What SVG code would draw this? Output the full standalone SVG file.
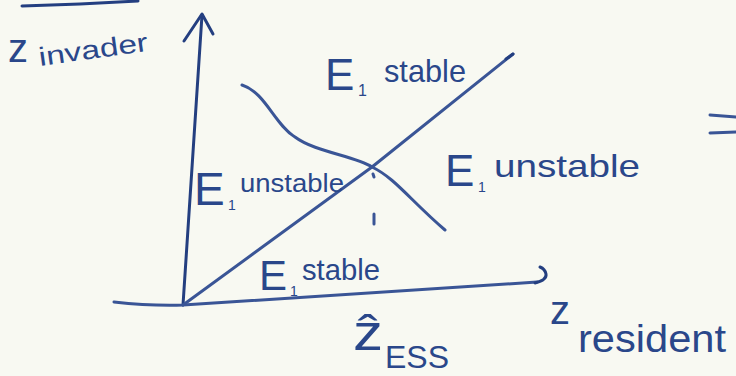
<svg xmlns="http://www.w3.org/2000/svg" width="736" height="376" viewBox="0 0 736 376">
<style>
.ink{fill:none;stroke:#3a5596;stroke-width:3;stroke-linecap:round;stroke-linejoin:round}
.dark{stroke:#243f80}
.t{font-family:"Liberation Sans",Arial,sans-serif;fill:#2a478a}
</style>
<rect width="736" height="376" fill="#f8f9f2"/>
<g id="scribbles">
<path class="ink dark" d="M22 6 L80 4 L138 1" stroke-width="4"/>
<path class="ink" d="M710 115 L736 117 M710 133 L736 132"/>
</g>
<g id="axes">
<path class="ink dark" d="M183 305 L202 15"/>
<path class="ink dark" d="M184 41 L202 14 L213 34"/>
<path class="ink" d="M114 302 Q150 306 183 305 L537 282"/>
<path class="ink dark" d="M535 283 Q547 280 546 274 Q545 269 540 267"/>
</g>
<g id="curves">
<path class="ink" d="M183 305 L372 167 L513 54"/>
<path class="ink dark" d="M506 59 L513 54"/>
<path class="ink" d="M242 85 C265 92 275 125 295 137 C315 152 355 156 372 167 C395 178 410 200 445 230"/>
<path class="ink" d="M373 174 L374 177 M374 214 L374 224"/>
</g>
<g id="labels">
<text class="t" x="8" y="62" font-size="40">z</text>
<text class="t" x="40" y="66" font-size="26" textLength="110" lengthAdjust="spacingAndGlyphs" transform="rotate(-8 40 66)">invader</text>
<text class="t" x="325" y="90" font-size="44">E</text>
<text class="t" x="358" y="96" font-size="16">1</text>
<text class="t" x="384" y="82" font-size="32" textLength="82" lengthAdjust="spacingAndGlyphs">stable</text>
<text class="t" x="194" y="205" font-size="46">E</text>
<text class="t" x="228" y="210" font-size="14">1</text>
<text class="t" x="240" y="192" font-size="26" textLength="104" lengthAdjust="spacingAndGlyphs">unstable</text>
<text class="t" x="445" y="186" font-size="44">E</text>
<text class="t" x="478" y="192" font-size="14">1</text>
<text class="t" x="494" y="177" font-size="32" textLength="146" lengthAdjust="spacingAndGlyphs">unstable</text>
<text class="t" x="259" y="290" font-size="42">E</text>
<text class="t" x="290" y="296" font-size="14">1</text>
<text class="t" x="302" y="280" font-size="30" textLength="78" lengthAdjust="spacingAndGlyphs">stable</text>
<text class="t" x="353" y="350" font-size="50" textLength="30" lengthAdjust="spacingAndGlyphs">ẑ</text>
<text class="t" x="385" y="368" font-size="32" textLength="64" lengthAdjust="spacingAndGlyphs">ESS</text>
<text class="t" x="550" y="324" font-size="40">z</text>
<text class="t" x="578" y="352" font-size="38" textLength="148" lengthAdjust="spacingAndGlyphs">resident</text>
</g>
</svg>
